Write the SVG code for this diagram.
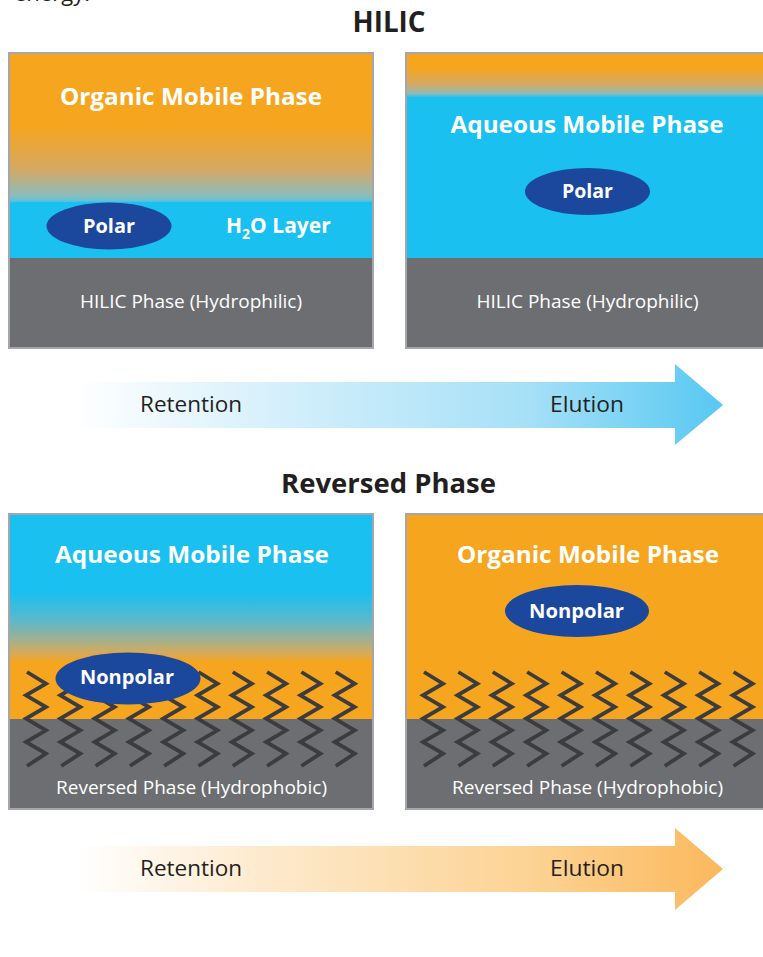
<svg xmlns="http://www.w3.org/2000/svg" width="763" height="957" viewBox="0 0 763 957">
<defs>
<linearGradient id="gTL" gradientUnits="userSpaceOnUse" x1="0" y1="128" x2="0" y2="204">
<stop offset="0" stop-color="#f6a51f"/>
<stop offset="0.55" stop-color="#d3a965"/>
<stop offset="0.88" stop-color="#8fbcb9"/>
<stop offset="0.96" stop-color="#5ec2d8"/>
<stop offset="1" stop-color="#19c0f0"/>
</linearGradient>
<linearGradient id="gTR" gradientUnits="userSpaceOnUse" x1="0" y1="68" x2="0" y2="98">
<stop offset="0" stop-color="#f6a51f"/>
<stop offset="0.55" stop-color="#d3a965"/>
<stop offset="0.85" stop-color="#8fbcb9"/>
<stop offset="1" stop-color="#19c0f0"/>
</linearGradient>
<linearGradient id="gRL" gradientUnits="userSpaceOnUse" x1="0" y1="592" x2="0" y2="662">
<stop offset="0" stop-color="#19c0f0"/>
<stop offset="0.4" stop-color="#5ab9cc"/>
<stop offset="0.7" stop-color="#a6b08c"/>
<stop offset="0.86" stop-color="#d4aa5e"/>
<stop offset="1" stop-color="#f6a51f"/>
</linearGradient>
<linearGradient id="gArrB" gradientUnits="userSpaceOnUse" x1="76" y1="0" x2="723" y2="0">
<stop offset="0" stop-color="#ffffff"/>
<stop offset="0.3" stop-color="#d6f0fb"/>
<stop offset="0.7" stop-color="#a6e0f7"/>
<stop offset="1" stop-color="#57c8f2"/>
</linearGradient>
<linearGradient id="gArrO" gradientUnits="userSpaceOnUse" x1="76" y1="0" x2="723" y2="0">
<stop offset="0" stop-color="#ffffff"/>
<stop offset="0.3" stop-color="#fde9cb"/>
<stop offset="0.7" stop-color="#fcd394"/>
<stop offset="1" stop-color="#fbb85c"/>
</linearGradient>
<g id="zig">
<polyline points="1,0 20,11.7 0,23.3 20,35 0,46.6 20,58.3 0,70 20,81.6 1,94" fill="none" stroke="#3c3c3e" stroke-width="3.8" stroke-linejoin="miter"/>
</g>
</defs>
<style>
.panel{stroke:#a4a6a9;stroke-width:2}
.gray{fill:#6d6e71}
.bt{font-family:"Open Sans","Liberation Sans",sans-serif;font-weight:bold;fill:#ffffff;text-anchor:middle}
.rt{font-family:"Open Sans","Liberation Sans",sans-serif;fill:#ffffff;text-anchor:middle}
.title{font-family:"Open Sans","Liberation Sans",sans-serif;font-weight:bold;fill:#231f20;text-anchor:middle}
.arr{font-family:"Open Sans","Liberation Sans",sans-serif;fill:#231f20;text-anchor:middle}
.ell{fill:#1b479c}
</style>
<rect width="763" height="957" fill="#ffffff"/>
<text x="14" y="1" font-family="'Open Sans','Liberation Sans',sans-serif" font-size="22" fill="#231f20">energy.</text>

<text class="title" x="389" y="32" font-size="28" textLength="73" lengthAdjust="spacingAndGlyphs">HILIC</text>

<g id="hilic-left">
<rect x="9" y="53" width="364" height="150" fill="url(#gTL)"/>
<rect x="9" y="202" width="364" height="57" fill="#19c0f0"/>
<rect class="gray" x="9" y="258" width="364" height="90"/>
<rect class="panel" x="9" y="53" width="364" height="295" fill="none"/>
<text class="bt" x="191" y="105" font-size="24" textLength="262" lengthAdjust="spacingAndGlyphs">Organic Mobile Phase</text>
<ellipse class="ell" cx="109" cy="226" rx="62.5" ry="23.5"/>
<text class="bt" x="109" y="233" font-size="20" textLength="52" lengthAdjust="spacingAndGlyphs">Polar</text>
<text class="bt" x="226" y="233" font-size="21" style="text-anchor:start">H<tspan font-size="14" dy="6">2</tspan><tspan dy="-6">O Layer</tspan></text>
<text class="rt" x="191" y="308" font-size="19" textLength="222" lengthAdjust="spacingAndGlyphs">HILIC Phase (Hydrophilic)</text>
</g>

<g id="hilic-right">
<rect x="406" y="53" width="365" height="46" fill="url(#gTR)"/>
<rect x="406" y="97" width="365" height="162" fill="#19c0f0"/>
<rect class="gray" x="406" y="258" width="365" height="90"/>
<rect class="panel" x="406" y="53" width="365" height="295" fill="none"/>
<text class="bt" x="587" y="133" font-size="24" textLength="273" lengthAdjust="spacingAndGlyphs">Aqueous Mobile Phase</text>
<ellipse class="ell" cx="587.5" cy="191.5" rx="62.5" ry="23.5"/>
<text class="bt" x="587.5" y="198" font-size="20" textLength="51" lengthAdjust="spacingAndGlyphs">Polar</text>
<text class="rt" x="587.5" y="308" font-size="19" textLength="222" lengthAdjust="spacingAndGlyphs">HILIC Phase (Hydrophilic)</text>
</g>

<text class="title" x="388.5" y="493" font-size="26" textLength="215" lengthAdjust="spacingAndGlyphs">Reversed Phase</text>

<g id="rp-left">
<rect x="9" y="514" width="364" height="80" fill="#19c0f0"/>
<rect x="9" y="592" width="364" height="72" fill="url(#gRL)"/>
<rect x="9" y="662" width="364" height="58" fill="#f6a51f"/>
<rect class="gray" x="9" y="719" width="364" height="90"/>
<g id="rp-left-chains">
<use href="#zig" x="26" y="672"/>
<use href="#zig" x="60.3" y="672"/>
<use href="#zig" x="94.6" y="672"/>
<use href="#zig" x="128.9" y="672"/>
<use href="#zig" x="163.2" y="672"/>
<use href="#zig" x="197.5" y="672"/>
<use href="#zig" x="231.8" y="672"/>
<use href="#zig" x="266.1" y="672"/>
<use href="#zig" x="300.4" y="672"/>
<use href="#zig" x="334.7" y="672"/>
</g>
<rect class="panel" x="9" y="514" width="364" height="295" fill="none"/>
<text class="bt" x="192" y="563" font-size="24" textLength="274" lengthAdjust="spacingAndGlyphs">Aqueous Mobile Phase</text>
<ellipse class="ell" cx="128" cy="678.5" rx="72.5" ry="26"/>
<text class="bt" x="127" y="684" font-size="20" textLength="94" lengthAdjust="spacingAndGlyphs">Nonpolar</text>
<text class="rt" x="191.5" y="794" font-size="19" textLength="271" lengthAdjust="spacingAndGlyphs">Reversed Phase (Hydrophobic)</text>
</g>

<g id="rp-right">
<rect x="406" y="514" width="365" height="206" fill="#f6a51f"/>
<rect class="gray" x="406" y="719" width="365" height="90"/>
<g id="rp-right-chains">
<use href="#zig" x="423" y="672"/>
<use href="#zig" x="457.4" y="672"/>
<use href="#zig" x="491.8" y="672"/>
<use href="#zig" x="526.2" y="672"/>
<use href="#zig" x="560.6" y="672"/>
<use href="#zig" x="595" y="672"/>
<use href="#zig" x="629.4" y="672"/>
<use href="#zig" x="663.8" y="672"/>
<use href="#zig" x="698.2" y="672"/>
<use href="#zig" x="732.6" y="672"/>
</g>
<rect class="panel" x="406" y="514" width="365" height="295" fill="none"/>
<text class="bt" x="588" y="563" font-size="24" textLength="262" lengthAdjust="spacingAndGlyphs">Organic Mobile Phase</text>
<ellipse class="ell" cx="577" cy="611" rx="72" ry="26"/>
<text class="bt" x="576.5" y="618" font-size="20" textLength="95" lengthAdjust="spacingAndGlyphs">Nonpolar</text>
<text class="rt" x="587.5" y="794" font-size="19" textLength="271" lengthAdjust="spacingAndGlyphs">Reversed Phase (Hydrophobic)</text>
</g>

<g id="connectors">
<g id="arrow-hilic">
<path d="M76,382 L675,382 L675,364 L723,405 L675,445 L675,428 L76,428 Z" fill="url(#gArrB)"/>
<text class="arr" x="191" y="412" font-size="22" textLength="102" lengthAdjust="spacingAndGlyphs">Retention</text>
<text class="arr" x="587" y="412" font-size="22" textLength="74" lengthAdjust="spacingAndGlyphs">Elution</text>
</g>
<g id="arrow-rp">
<path d="M76,846 L675,846 L675,828 L723,869 L675,910 L675,892 L76,892 Z" fill="url(#gArrO)"/>
<text class="arr" x="191" y="876" font-size="22" textLength="102" lengthAdjust="spacingAndGlyphs">Retention</text>
<text class="arr" x="587" y="876" font-size="22" textLength="74" lengthAdjust="spacingAndGlyphs">Elution</text>
</g>
</g>
</svg>
